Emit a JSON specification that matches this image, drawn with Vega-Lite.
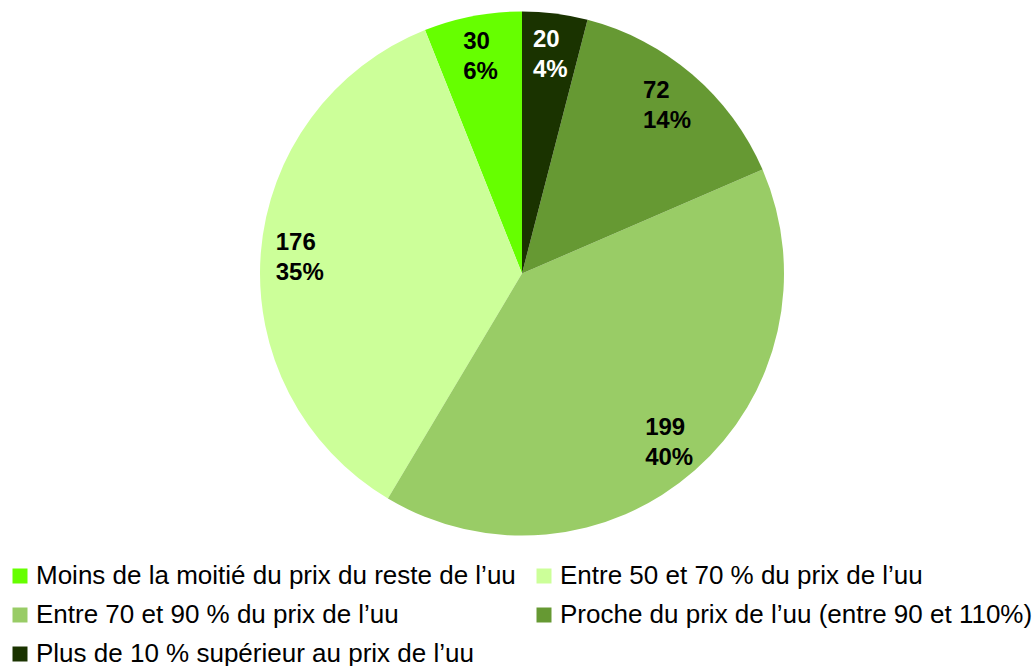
{
  "$schema": "https://vega.github.io/schema/vega-lite/v6.json",
  "width": 1028,
  "height": 547,
  "autosize": {"type": "none"},
  "padding": {"left": 8, "top": 0, "right": 0, "bottom": 119},
  "config": {"view": {"stroke": null}, "font": "Liberation Sans"},
  "data": {"values": [
    {"cat": "Moins de la moitié du prix du reste de l’uu", "n": 30, "pct": "6%", "ord": 5},
    {"cat": "Entre 50 et 70 % du prix de l’uu", "n": 176, "pct": "35%", "ord": 4},
    {"cat": "Entre 70 et 90 % du prix de l’uu", "n": 199, "pct": "40%", "ord": 3},
    {"cat": "Proche du prix de l’uu (entre 90 et 110%)", "n": 72, "pct": "14%", "ord": 2},
    {"cat": "Plus de 10 % supérieur au prix de l’uu", "n": 20, "pct": "4%", "ord": 1}
  ]},
  "transform": [
    {"stack": "n", "groupby": [], "sort": [{"field": "ord", "order": "ascending"}], "as": ["t0", "t1"]},
    {"calculate": "(datum.t0 + datum.t1) / 2", "as": "tm"},
    {"calculate": "datum.n + '\\n' + datum.pct", "as": "label"}
  ],
  "layer": [
    {
      "mark": {"type": "arc", "outerRadius": 262, "strokeWidth": 0},
      "encoding": {
        "theta": {"field": "t1", "type": "quantitative", "scale": {"nice": false, "zero": true}},
        "theta2": {"field": "t0"},
        "color": {
          "field": "cat",
          "type": "nominal",
          "scale": {
            "domain": [
              "Moins de la moitié du prix du reste de l’uu",
              "Entre 50 et 70 % du prix de l’uu",
              "Entre 70 et 90 % du prix de l’uu",
              "Proche du prix de l’uu (entre 90 et 110%)",
              "Plus de 10 % supérieur au prix de l’uu"
            ],
            "range": ["#66ff00", "#ccff99", "#99cc66", "#669933", "#1a3300"]
          },
          "legend": {
            "title": null,
            "orient": "none",
            "direction": "horizontal",
            "legendX": -1,
            "legendY": 563,
            "columns": 2,
            "symbolType": "square",
            "symbolSize": 225,
            "symbolStrokeWidth": 0,
            "labelFontSize": 26,
            "labelFont": "Liberation Sans",
            "labelColor": "black",
            "labelLimit": 0,
            "labelOffset": 3,
            "columnPadding": 15,
            "rowPadding": 13
          }
        }
      }
    },
    {
      "transform": [{"filter": "length(datum.pct) == 3"}],
      "mark": {"type": "text", "radius": 223, "align": "left", "dx": -24, "dy": -13, "baseline": "middle", "lineBreak": "\n", "lineHeight": 30, "fontSize": 24, "fontWeight": "bold", "font": "Liberation Sans"},
      "encoding": {
        "theta": {"field": "tm", "type": "quantitative"},
        "text": {"field": "label"},
        "color": {"condition": {"test": "datum.n == 20", "value": "white"}, "value": "black"}
      }
    },
    {
      "transform": [{"filter": "length(datum.pct) == 2"}],
      "mark": {"type": "text", "radius": 222, "align": "left", "dx": -17, "dy": -13, "baseline": "middle", "lineBreak": "\n", "lineHeight": 30, "fontSize": 24, "fontWeight": "bold", "font": "Liberation Sans"},
      "encoding": {
        "theta": {"field": "tm", "type": "quantitative"},
        "text": {"field": "label"},
        "color": {"condition": {"test": "datum.n == 20", "value": "white"}, "value": "black"}
      }
    }
  ]
}
